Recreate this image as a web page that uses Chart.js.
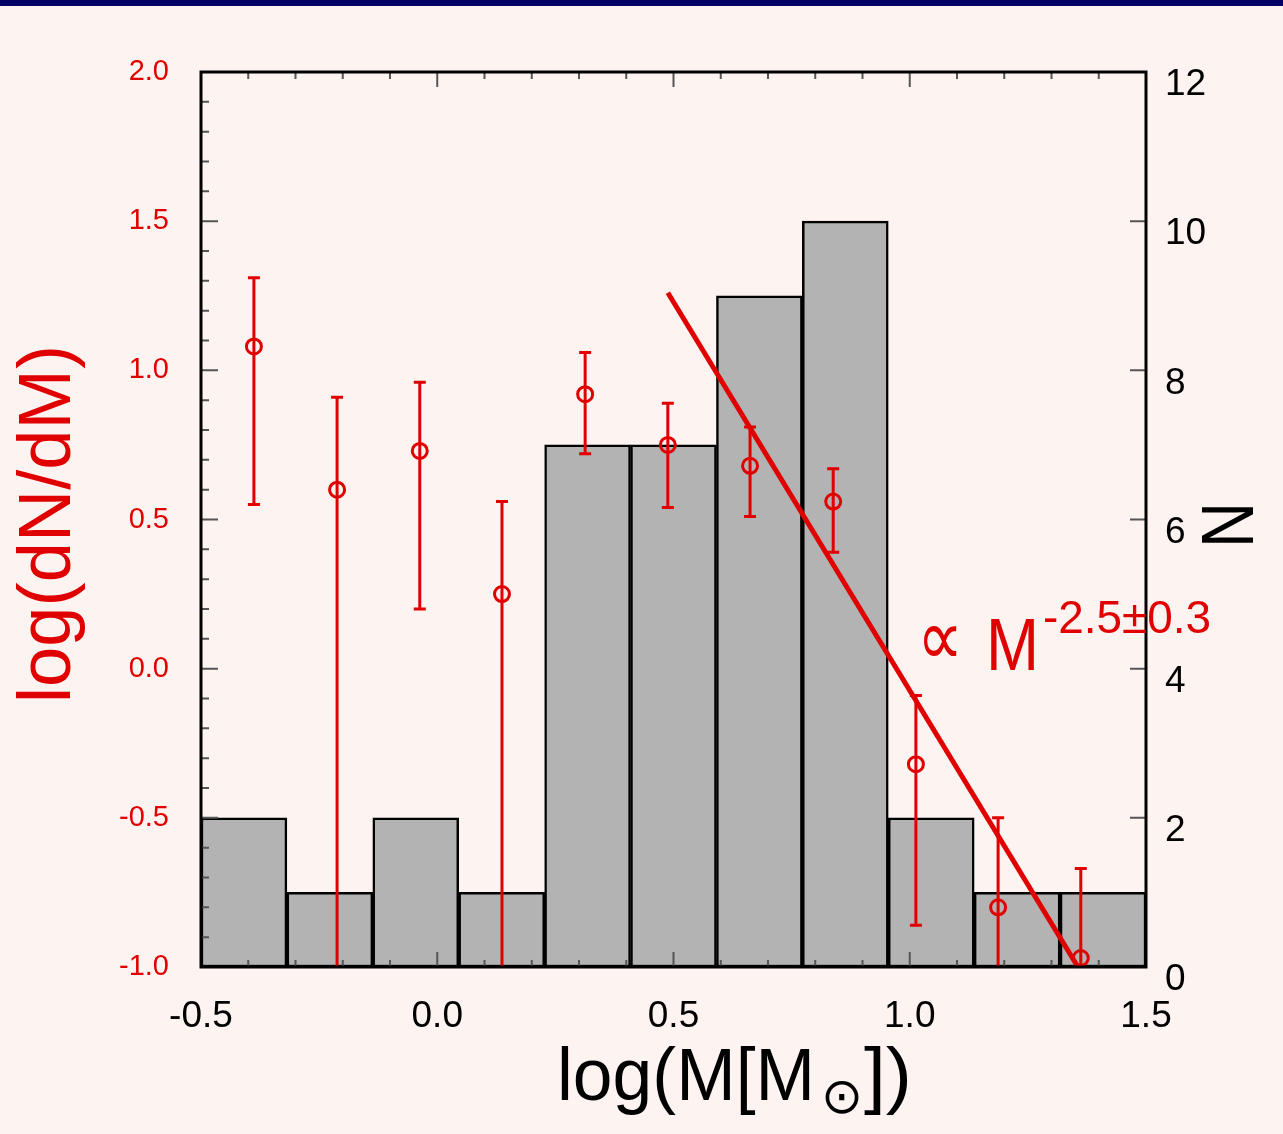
<!DOCTYPE html>
<html>
<head>
<meta charset="utf-8">
<style>
  html, body { margin: 0; padding: 0; background: #fdf4f2; }
  canvas { display: block; }
</style>
<script src="https://cdn.jsdelivr.net/npm/chart.js@4/dist/chart.umd.min.js"></script>
</head>
<body>
<canvas id="massChart" width="1283" height="1134"></canvas>
<script>
// histogram: bin centres in log(M) and number of stars per bin
var binCentres = [-0.4091, -0.2273, -0.0455, 0.1364, 0.3182, 0.5, 0.6818, 0.8636, 1.0455, 1.2273, 1.4091];
var binCounts = [2, 1, 2, 1, 7, 7, 9, 10, 2, 1, 1];

// mass function points log(dN/dM) with error bar ends
var massX = [-0.388, -0.212, -0.037, 0.137, 0.313, 0.488, 0.662, 0.838, 1.013, 1.187, 1.362];
var logDnDm = [1.08, 0.60, 0.73, 0.25, 0.92, 0.75, 0.68, 0.56, -0.32, -0.80, -0.97];
var errTop = [1.31, 0.91, 0.96, 0.56, 1.06, 0.89, 0.81, 0.67, -0.09, -0.50, -0.67];
var errBottom = [0.55, -1.0, 0.20, -1.0, 0.72, 0.54, 0.51, 0.39, -0.86, -1.0, -1.0];

// power-law fit line end points
var fitX = [0.488, 1.356];
var fitY = [1.26, -1.0];

var RED = '#e00000';
var FONT = "'Liberation Sans', Arial, 'DejaVu Sans', sans-serif";

var pointData = massX.map(function(x, i) { return { x: x, y: logDnDm[i] }; });
var barData = binCentres.map(function(x, i) { return { x: x, y: binCounts[i] }; });
var fitData = fitX.map(function(x, i) { return { x: x, y: fitY[i] }; });

// text squeezed horizontally to a given width
function drawFit(ctx, text, x, y, size, width, align) {
  ctx.save();
  ctx.font = size + 'px ' + FONT;
  var w = ctx.measureText(text).width;
  var sx = width / w;
  ctx.translate(x, y);
  ctx.scale(sx, 1);
  ctx.textAlign = align || 'left';
  ctx.textBaseline = 'alphabetic';
  ctx.fillText(text, 0, 0);
  ctx.restore();
}

var decorPlugin = {
  id: 'decor',
  beforeDraw: function(chart) {
    var ctx = chart.ctx;
    ctx.save();
    ctx.fillStyle = '#fdf4f2';
    ctx.fillRect(0, 0, chart.width, chart.height);
    ctx.fillStyle = '#000066';
    ctx.fillRect(0, 0, chart.width, 6);
    ctx.restore();
  },
  afterDatasetDraw: function(chart, args) {
    // error bars go on top of the histogram
    if (args.index !== 0) return;
    var ctx = chart.ctx;
    var xs = chart.scales.x, ys = chart.scales.y;
    ctx.save();
    ctx.strokeStyle = RED;
    ctx.lineWidth = 3;
    massX.forEach(function(m, i) {
      var px = xs.getPixelForValue(m);
      var top = ys.getPixelForValue(errTop[i]);
      var bot = ys.getPixelForValue(errBottom[i]);
      ctx.beginPath();
      ctx.moveTo(px, top);
      ctx.lineTo(px, bot);
      ctx.moveTo(px - 6, top);
      ctx.lineTo(px + 6, top);
      if (errBottom[i] > -1.0) {
        ctx.moveTo(px - 6, bot);
        ctx.lineTo(px + 6, bot);
      }
      ctx.stroke();
    });
    ctx.restore();
  },
  afterDraw: function(chart) {
    var ctx = chart.ctx;
    var a = chart.chartArea;
    var xs = chart.scales.x, ys = chart.scales.y, yn = chart.scales.yN;
    ctx.save();
    // inward ticks
    ctx.strokeStyle = '#555';
    ctx.lineWidth = 2;
    ctx.beginPath();
    for (var k = -5; k <= 15; k++) {
      var px = xs.getPixelForValue(k / 10);
      var len = (k % 5 === 0) ? 15 : 7;
      ctx.moveTo(px, a.bottom); ctx.lineTo(px, a.bottom - len);
      ctx.moveTo(px, a.top); ctx.lineTo(px, a.top + len);
    }
    for (var j = -10; j <= 20; j++) {
      var py = ys.getPixelForValue(j / 10);
      var l2 = (j % 5 === 0) ? 17 : 8;
      ctx.moveTo(a.left, py); ctx.lineTo(a.left + l2, py);
    }
    for (var n = 0; n <= 12; n += 2) {
      var pn = yn.getPixelForValue(n);
      ctx.moveTo(a.right, pn); ctx.lineTo(a.right - 16, pn);
    }
    ctx.stroke();
    // frame
    ctx.strokeStyle = '#000';
    ctx.lineWidth = 3;
    ctx.strokeRect(a.left, a.top, a.right - a.left, a.bottom - a.top);

    // axis titles
    ctx.fillStyle = RED;
    ctx.save();
    ctx.translate(70, 524);
    ctx.rotate(-Math.PI / 2);
    drawFit(ctx, 'log(dN/dM)', 0, 0, 75, 358, 'center');
    ctx.restore();

    ctx.fillStyle = '#000';
    ctx.save();
    ctx.translate(1202, 525);
    ctx.rotate(Math.PI / 2);
    drawFit(ctx, 'N', 0, 0, 75, 46, 'center');
    ctx.restore();

    // x title with sun subscript
    drawFit(ctx, 'log(M[M', 557, 1100, 75, 258, 'left');
    ctx.save();
    ctx.font = '50px ' + FONT;
    ctx.textAlign = 'center';
    ctx.fillText('\u2299', 842, 1113);
    ctx.restore();
    drawFit(ctx, '])', 864, 1100, 75, 48, 'left');

    // fit annotation
    ctx.fillStyle = RED;
    drawFit(ctx, '\u221D', 917, 665, 80, 46, 'left');
    drawFit(ctx, 'M', 986, 670, 75, 53, 'left');
    drawFit(ctx, '-2.5\u00B10.3', 1043, 633, 46, 168, 'left');
    ctx.restore();
  }
};

var ctx = document.getElementById('massChart').getContext('2d');
var massChart = new Chart(ctx, {
  type: 'bar',
  data: {
    datasets: [{
      type: 'bar',
      label: 'N',
      data: barData,
      yAxisID: 'yN',
      backgroundColor: '#b3b3b3',
      borderColor: '#000',
      borderWidth: 2.5,
      borderSkipped: false,
      barPercentage: 1,
      categoryPercentage: 1,
      order: 3
    }, {
      type: 'line',
      label: 'log(dN/dM)',
      data: pointData,
      yAxisID: 'y',
      showLine: false,
      pointStyle: 'circle',
      pointRadius: 7.5,
      pointBorderWidth: 3,
      pointBorderColor: RED,
      pointBackgroundColor: 'rgba(0,0,0,0)',
      clip: false,
      order: 2
    }, {
      type: 'line',
      label: 'fit',
      data: fitData,
      yAxisID: 'y',
      borderColor: RED,
      borderWidth: 5,
      pointRadius: 0,
      clip: false,
      order: 1
    }]
  },
  options: {
    responsive: false,
    animation: false,
    layout: { padding: { top: 72, left: 0, right: 0, bottom: 0 } },
    plugins: {
      legend: { display: false },
      tooltip: { enabled: false }
    },
    scales: {
      x: {
        type: 'linear',
        position: 'bottom',
        offset: false,
        min: -0.5,
        max: 1.5,
        grid: { display: false, drawTicks: false, offset: false },
        border: { display: false },
        ticks: {
          stepSize: 0.5,
          color: '#000',
          padding: 28,
          font: { family: FONT, size: 37 },
          callback: function(v) { return v.toFixed(1); }
        },
        afterFit: function(s) { s.height = 167; }
      },
      y: {
        type: 'linear',
        position: 'left',
        min: -1,
        max: 2,
        grid: { display: false, drawTicks: false },
        border: { display: false },
        ticks: {
          stepSize: 0.5,
          color: RED,
          padding: 32,
          font: { family: FONT, size: 29 },
          callback: function(v) { return v.toFixed(1); }
        },
        afterFit: function(s) { s.width = 201; }
      },
      yN: {
        type: 'linear',
        position: 'right',
        min: 0,
        max: 12,
        grid: { display: false, drawTicks: false },
        border: { display: false },
        ticks: {
          stepSize: 2,
          color: '#000',
          padding: 19,
          labelOffset: 13,
          font: { family: FONT, size: 37 }
        },
        afterFit: function(s) { s.width = 137; }
      }
    }
  },
  plugins: [decorPlugin]
});
</script>
</body>
</html>
